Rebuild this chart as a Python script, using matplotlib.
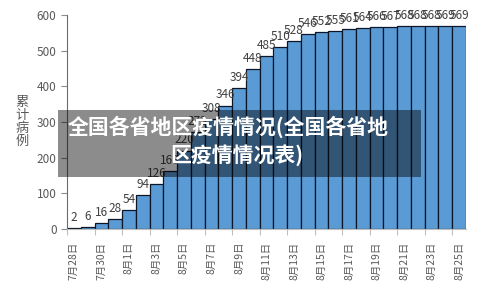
import matplotlib
matplotlib.use("Agg")
import matplotlib.pyplot as plt
from matplotlib.patches import Rectangle
from matplotlib.ticker import MultipleLocator

plt.rcParams['font.family'] = ['Noto Sans CJK SC', 'DejaVu Sans']

# data
dates = ["7月28日", "7月29日", "7月30日", "7月31日",
         "8月1日", "8月2日", "8月3日", "8月4日", "8月5日", "8月6日", "8月7日",
         "8月8日", "8月9日", "8月10日", "8月11日", "8月12日", "8月13日", "8月14日",
         "8月15日", "8月16日", "8月17日", "8月18日", "8月19日", "8月20日",
         "8月21日", "8月22日", "8月23日", "8月24日", "8月25日"]
cases = [2, 6, 16, 28, 54, 94, 126, 163, 220, 272, 308, 346, 394, 448, 485,
         510, 528, 546, 552, 555, 561, 564, 566, 567, 568, 568, 568, 569, 569]
y_label = "累计病例"
banner_1 = "全国各省地区疫情情况(全国各省地"
banner_2 = "区疫情情况表)"

fig = plt.figure(figsize=(4.8, 2.88), dpi=100)
ax = fig.add_axes([67/480, 1-229/288, (466-67)/480, (229-15)/288])

x = list(range(len(cases)))
ax.bar(x, cases, width=1.0, color='#5b9bd5', edgecolor='#0b1628', linewidth=0.9, zorder=2)

for xi, v in zip(x, cases):
    ax.annotate(str(v), (xi, v), xytext=(0, 3), textcoords='offset points',
                ha='center', va='bottom', fontsize=8.5, color='#404040')

ax.set_xlim(-0.5, len(cases) - 0.5)
ax.set_ylim(0, 600)
ax.yaxis.set_major_locator(MultipleLocator(100))
ax.tick_params(axis='y', labelsize=8.5, labelcolor='#595959', color='#8c8c8c', length=4, width=0.8)

ax.set_xticks(x[::2])
ax.set_xticklabels(dates[::2], rotation=90, fontsize=7.5, color='#595959')
ax.set_xticks([i - 0.5 for i in range(0, len(cases) + 1, 2)], minor=True)
ax.tick_params(axis='x', which='major', length=0, pad=9)
ax.tick_params(axis='x', which='minor', length=4, color='#bfbfbf', width=0.8)

for s in ['top', 'right']:
    ax.spines[s].set_visible(False)
ax.spines['left'].set_color('#5a6e8c')
ax.spines['bottom'].set_color('#bfbfbf')

fig.text(22/480, 1-122/288, "\n".join(y_label), ha='center', va='center',
         fontsize=9.5, color='#595959', linespacing=1.0)

# dark banner over the chart
fig.add_artist(Rectangle((58/480, 1-177/288), (421-58)/480, (177-110)/288,
                         transform=fig.transFigure, facecolor='black', alpha=0.45,
                         edgecolor='none', zorder=5))
fig.text(68/480, 1-127/288, banner_1, ha='left', va='center', fontsize=15,
         fontweight='bold', color='white', zorder=6)
fig.text(170/480, 1-155/288, banner_2, ha='left', va='center', fontsize=15,
         fontweight='bold', color='white', zorder=6)

fig.savefig("out.png", dpi=100)
